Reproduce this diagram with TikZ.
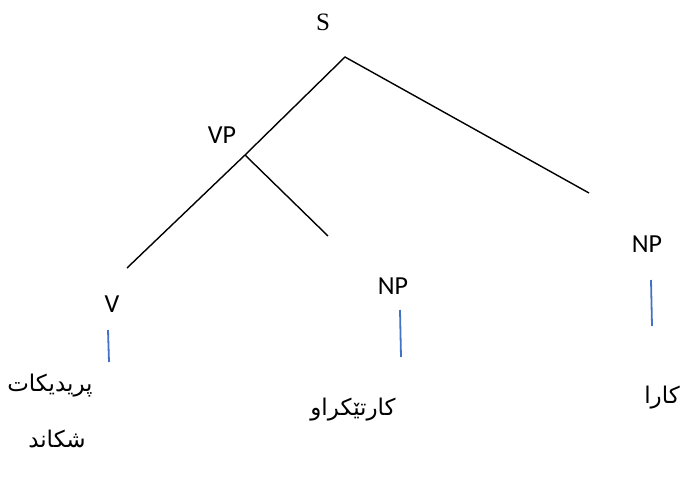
\documentclass[tikz,border=0pt]{standalone}
\usepackage{fontspec}
\setmainfont{Liberation Serif}
\newfontfamily\calfont{Carlito}
\newfontfamily\arabicfont[Script=Arabic]{DejaVu Sans}
\TeXXeTstate=1
\definecolor{treeblue}{RGB}{68,114,196}
\begin{document}
\begin{tikzpicture}[x=1pt,y=-1pt,
  branch/.style={draw=black,line width=1.4pt},
  stem/.style={draw=treeblue,line width=1.8pt},
  cat/.style={inner sep=0pt,font=\calfont\fontsize{26}{30}\selectfont},
  word/.style={inner sep=0pt,font=\arabicfont\fontsize{23}{28}\selectfont}]
\useasboundingbox (0,0) rectangle (694,477);
% labels
\node[inner sep=0pt,font=\fontsize{25}{30}\selectfont] (S) at (323,22) {S};
\node[cat] (VP) at (222,135) {VP};
\node[cat] (V) at (112,304) {V};
\node[cat] (NP1) at (393,286) {NP};
\node[cat] (NP2) at (647,244) {NP};
% words
\node[word] (w1) at (50,386) {\beginR پریدیکات\endR};
\node[word] (w2) at (57,439) {\beginR شکاند\endR};
\node[word] (w3) at (353,410) {\beginR کارتێکراو\endR};
\node[word] (w4) at (662,398) {\beginR کارا\endR};
% branch points
\coordinate (top) at (345,57);
\coordinate (vpj) at (245,155);
\coordinate (vend) at (127,268);
\coordinate (npend) at (328,236);
\coordinate (rend) at (589,193);
\draw[branch] (vend) -- (vpj) -- (top) -- (rend);
\draw[branch] (vpj) -- (npend);
% stems
\coordinate (s1a) at (108,330); \coordinate (s1b) at (109,362);
\coordinate (s2a) at (400,310); \coordinate (s2b) at (401,357);
\coordinate (s3a) at (651,280); \coordinate (s3b) at (652,326);
\draw[stem] (s1a) -- (s1b);
\draw[stem] (s2a) -- (s2b);
\draw[stem] (s3a) -- (s3b);
\end{tikzpicture}
\end{document}
